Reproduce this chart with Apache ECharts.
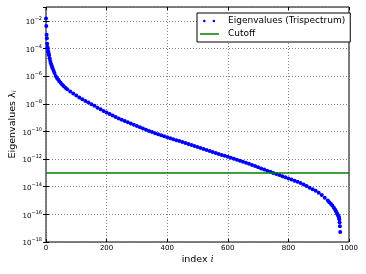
<!DOCTYPE html>
<html>
<head>
<meta charset="utf-8">
<script src="https://cdn.jsdelivr.net/npm/echarts@6/dist/echarts.min.js"></script>
<style>
html,body{margin:0;padding:0;background:#fff;}
#chart{width:366px;height:274px;}
</style>
</head>
<body>
<div id="chart"></div>
<script>
// Eigenvalue index (x) and eigenvalue (y)
var eigIndex = [0,1,2,3,4,5,6,7,8,9,10,12,14,16,18,20,22,25,28,32,36,40,44,48,53,58,64,70,80,90,
  100,110,120,130,140,150,160,170,180,190,200,210,220,230,240,250,260,270,280,290,
  300,310,320,330,340,350,360,370,380,390,400,410,420,430,440,450,460,470,480,490,
  500,510,520,530,540,550,560,570,580,590,600,610,620,630,640,650,660,670,680,690,
  700,710,720,730,740,750,760,770,780,790,800,810,820,830,840,850,860,870,880,890,
  900,910,920,930,935,940,945,950,954,957,960,962,964,966,967,968,969,970,971];
var eigValue = [1.5e-2,4.2e-3,1.0e-3,5.4e-4,2.2e-4,1.3e-4,1.0e-4,6.3e-5,5.0e-5,4.0e-5,
  3.2e-5,2.0e-5,1.26e-5,8.5e-6,6.3e-6,4.7e-6,3.5e-6,2.4e-6,1.66e-6,1.0e-6,
  7.4e-7,5.6e-7,4.3e-7,3.3e-7,2.5e-7,1.9e-7,1.45e-7,1.12e-7,7.8e-8,5.5e-8,
  3.9e-8,2.8e-8,2.1e-8,1.58e-8,1.23e-8,9.3e-9,7.1e-9,5.2e-9,4.0e-9,3.0e-9,
  2.3e-9,1.8e-9,1.41e-9,1.1e-9,8.7e-10,6.9e-10,5.6e-10,4.6e-10,3.7e-10,3.0e-10,
  2.5e-10,2.0e-10,1.6e-10,1.3e-10,1.07e-10,8.9e-11,7.4e-11,6.3e-11,5.2e-11,4.5e-11,
  3.8e-11,3.2e-11,2.75e-11,2.3e-11,2.0e-11,1.7e-11,1.45e-11,1.23e-11,1.05e-11,8.9e-12,
  7.4e-12,6.3e-12,5.4e-12,4.6e-12,3.8e-12,3.2e-12,2.75e-12,2.3e-12,2.0e-12,1.7e-12,
  1.45e-12,1.23e-12,1.05e-12,8.9e-13,7.6e-13,6.5e-13,5.4e-13,4.5e-13,3.7e-13,3.1e-13,
  2.6e-13,2.1e-13,1.74e-13,1.45e-13,1.2e-13,1.0e-13,8.3e-14,6.9e-14,5.8e-14,4.8e-14,
  4.0e-14,3.3e-14,2.75e-14,2.3e-14,1.86e-14,1.45e-14,1.12e-14,8.5e-15,6.6e-15,5.0e-15,
  3.7e-15,2.5e-15,1.6e-15,1.0e-15,7.6e-16,5.8e-16,4.3e-16,3.0e-16,2.2e-16,1.66e-16,
  1.23e-16,1.0e-16,8.1e-17,6.8e-17,5.6e-17,4.5e-17,2.6e-17,1.4e-17,5.4e-18];
var cutoffX = [0, 1000];
var cutoffValue = [1e-13, 1e-13];
var xTicks = [0, 200, 400, 600, 800, 1000];
var yTickExponents = [-18, -16, -14, -12, -10, -8, -6, -4, -2];
var seriesNames = ['Eigenvalues (Trispectrum)', 'Cutoff'];

var eigData = eigIndex.map(function (x, k) { return [x, eigValue[k]]; });
var cutData = cutoffX.map(function (x, k) { return [x, cutoffValue[k]]; });

var FONT = 'DejaVu Sans';
var chart = echarts.init(document.getElementById('chart'), null, {renderer: 'canvas'});
var gridLine = {show: true, lineStyle: {color: '#666', width: 0.8, type: [1, 2]}};
var tick = {show: true, inside: true, length: 3, lineStyle: {color: '#000', width: 1}};

chart.setOption({
  animation: false,
  backgroundColor: '#fff',
  textStyle: {fontFamily: FONT},
  grid: {left: 46, right: 17, top: 7, bottom: 32, containLabel: false, outerBoundsMode: 'none',
    show: true, borderColor: '#000', borderWidth: 1, backgroundColor: 'transparent'},
  legend: {
    orient: 'vertical', left: 197, top: 13,
    padding: [3, 5, 3, 3], itemGap: 3, itemWidth: 19, itemHeight: 8,
    backgroundColor: '#fff', borderColor: '#000', borderWidth: 1, borderRadius: 0,
    textStyle: {fontFamily: FONT, fontSize: 9, color: '#000', lineHeight: 10, padding: [0, 0, 0, 4]},
    data: [
      {name: seriesNames[0], icon: 'path://M0,0L0,0M19,5L19,5M3,2.5a1.3,1.3 0 1,0 2.6,0a1.3,1.3 0 1,0 -2.6,0ZM12.6,2.5a1.3,1.3 0 1,0 2.6,0a1.3,1.3 0 1,0 -2.6,0Z'},
      {name: seriesNames[1], icon: 'path://M0,0L19,0L19,1.5L0,1.5Z'}
    ]
  },
  xAxis: [{
    type: 'value', min: 0, max: 1000, interval: 200,
    name: '{n|index }{i|i}', nameLocation: 'middle', nameGap: 13, nameMoveOverlap: false,
    nameTextStyle: {rich: {n: {fontFamily: FONT, fontSize: 9.5, color: '#000'}, i: {fontFamily: 'DejaVu Serif', fontStyle: 'italic', fontSize: 8.5, color: '#000'}}},
    axisLine: {show: false}, axisTick: tick, splitLine: gridLine,
    axisLabel: {fontFamily: FONT, fontSize: 7, color: '#000', margin: 3,
      formatter: function (v) { return xTicks.indexOf(v) >= 0 ? String(v) : ''; }}
  }, {
    type: 'value', position: 'top', min: 0, max: 1000, interval: 200,
    axisLine: {show: false}, axisTick: tick, splitLine: {show: false}, axisLabel: {show: false}
  }],
  yAxis: [{
    type: 'log', logBase: 10, min: 1e-18, max: 1e-1, interval: 2,
    name: '{n|Eigenvalues }{l|λ}{s|i}', nameLocation: 'middle', nameGap: 28, nameRotate: 90,
    nameMoveOverlap: false,
    nameTextStyle: {rich: {
      n: {fontFamily: FONT, fontSize: 9.5, color: '#000'},
      l: {fontFamily: FONT, fontSize: 9.5, color: '#000'},
      s: {fontFamily: FONT, fontStyle: 'italic', fontSize: 6.5, color: '#000', verticalAlign: 'bottom', padding: [4, 0, 0, 0]}
    }},
    axisLine: {show: false}, axisTick: tick, splitLine: gridLine, minorTick: {show: false},
    axisLabel: {
      margin: 4, showMaxLabel: false,
      formatter: function (v) {
        var e = Math.round(Math.log10(v));
        if (yTickExponents.indexOf(e) < 0) return '';
        return '{b|10}{s|' + (e < 0 ? '\u2212' + (-e) : e) + '}';
      },
      rich: {
        b: {fontFamily: FONT, fontSize: 7, color: '#000', padding: [3, 0, 0, 0]},
        s: {fontFamily: FONT, fontSize: 5, color: '#000', padding: [0, 0, 4, 0]}
      }
    }
  }, {
    type: 'log', logBase: 10, min: 1e-18, max: 1e-1, interval: 2, position: 'right',
    axisLine: {show: false}, axisTick: tick, splitLine: {show: false}, axisLabel: {show: false}
  }],
  series: [{
    name: seriesNames[0], type: 'scatter', data: eigData,
    symbol: 'circle', symbolSize: 4, itemStyle: {color: '#0000ff', opacity: 1}, z: 2
  }, {
    name: seriesNames[1], type: 'line', data: cutData, showSymbol: false, symbol: 'none',
    lineStyle: {color: '#008000', width: 1.5}, itemStyle: {color: '#008000'}, z: 3
  }]
});
</script>
</body>
</html>
